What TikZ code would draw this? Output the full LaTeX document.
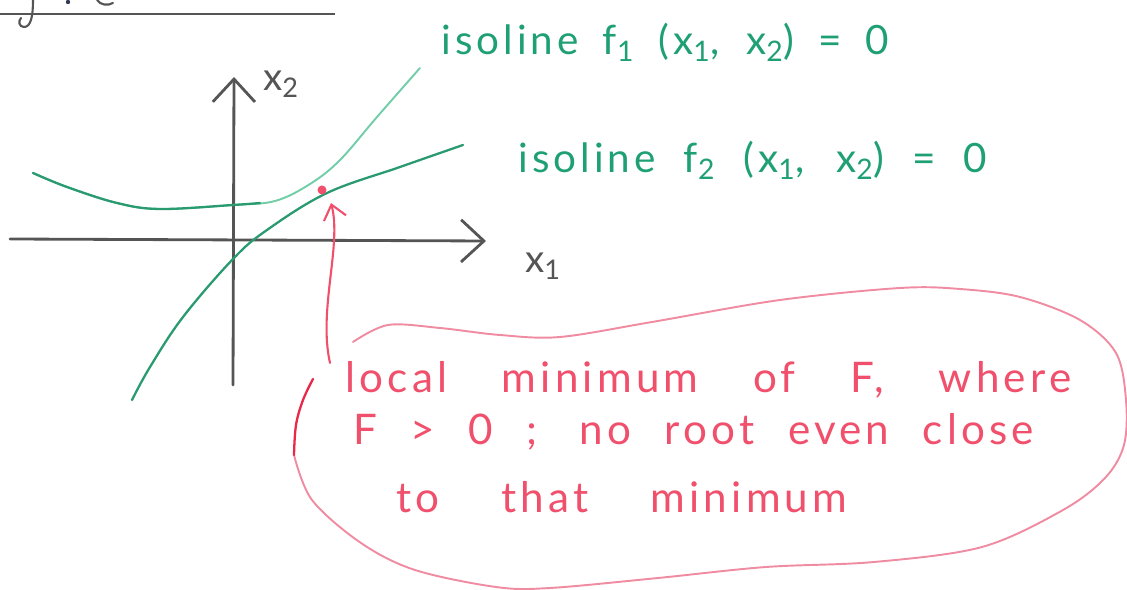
\documentclass[tikz,border=0pt]{standalone}
\usepackage{fontspec}
\newfontfamily\hand[LetterSpace=10]{Lato}
\usetikzlibrary{arrows.meta}
\definecolor{axisgray}{HTML}{555555}
\definecolor{isogreen}{HTML}{2A9A70}
\definecolor{isolight}{HTML}{72CDA9}
\definecolor{labgreen}{HTML}{1FA074}
\definecolor{notered}{HTML}{F0506C}
\definecolor{blobpink}{HTML}{F08CA2}
\definecolor{strokered}{HTML}{EA2848}
\definecolor{inkblue}{HTML}{333A55}
\tikzset{
  axisline/.style={draw=axisgray, line width=1.6pt, line cap=round,
    -{Straight Barb[length=13pt,width=24pt]}},
  isolabel/.style={font=\hand\fontsize{23}{26}\selectfont, text=labgreen, anchor=base west, inner sep=0pt},
  notetext/.style={font=\hand\fontsize{24}{28}\selectfont, text=notered, anchor=base west, inner sep=0pt},
  axislabel/.style={font=\hand\fontsize{22}{26}\selectfont, text=axisgray, inner sep=0pt},
  curvedark/.style={draw=isogreen, line width=1.3pt, line cap=round},
  curvelight/.style={draw=isolight, line width=1.1pt, line cap=round},
  blobline/.style={draw=blobpink, line width=1.1pt, line cap=round},
  pointer/.style={draw=notered, line width=1.2pt, line cap=round,
    -{Straight Barb[length=8pt,width=13pt]}},
}
\begin{document}
\begin{tikzpicture}[x=0.02cm, y=-0.02cm]
\useasboundingbox (0,0) rectangle (1127,590);

% top-left fragment of a heading, cut off by the page edge
\draw[axisgray, line width=0.9pt] (0,14) -- (335,14);
\draw[axisgray, line width=1.2pt, line cap=round] (33,0) .. controls (33,16) and (31,27) .. (24,27) .. controls (19,27) and (18,21) .. (21,18);
\fill[inkblue] (68,2) circle (2.2);
\draw[axisgray, line width=1.2pt, line cap=round] (97,0) .. controls (100,5) and (108,6) .. (113,3);

% axes
\coordinate (xstart) at (10,239);
\coordinate (xend) at (486,241);
\coordinate (ystart) at (233,385);
\coordinate (yend) at (234,77);
\draw[axisline] (xstart) -- (xend);
\draw[axisline] (ystart) -- (yend);
\node[axislabel] (labx2) at (281,84) {x\textsubscript{2}};
\node[axislabel] (labx1) at (543,266) {x\textsubscript{1}};

% isoline f2 (darker, almost straight)
\draw[curvedark] plot[smooth, tension=0.6] coordinates {(132,400) (150,367) (183,317) (233,259) (267,230) (327,193) (400,167) (463,145)};
% isoline f1: one continuous line, the left part drawn darker
\draw[curvelight] plot[smooth, tension=0.6] coordinates {(33,173) (67,187) (117,203) (160,209) (233,205) (275,201) (310,184) (340,160) (377,117) (420,68)};
\draw[curvedark] plot[smooth, tension=0.6] coordinates {(33,173) (67,187) (117,203) (160,209) (233,205) (260,203)};

% local minimum point and pointer
\node[circle, fill=notered, inner sep=0pt, minimum size=0.18cm] (minpt) at (322,190) {};
\coordinate (ptail) at (330,363);
\coordinate (ptip) at (331,203);
\draw[pointer] (ptail) .. controls (318,310) and (342,245) .. (ptip);

% labels of the isolines
\node[isolabel] (lab1) at (441,55) {\makebox[8.96cm][s]{isoline f\textsubscript{1} (x\textsubscript{1}, x\textsubscript{2}) = 0}};
\node[isolabel] (lab2) at (518,173) {\makebox[9.38cm][s]{isoline f\textsubscript{2} (x\textsubscript{1}, x\textsubscript{2}) = 0}};

% note bubble
\draw[blobline] plot[smooth, tension=0.55] coordinates {(353,342) (388,325) (440,328) (500,335) (560,337) (652,322) (780,300) (900,288) (960,289) (1020,297) (1080,320) (1116,353) (1126,400) (1124,445) (1105,478) (1063,510) (982,547) (874,562) (766,567) (658,578) (550,588) (496,587) (415,570) (361,543) (312,500) (294,455)};
\draw[draw=strokered, line width=1.3pt, line cap=round] plot[smooth, tension=0.6] coordinates {(294,455) (296,425) (303,400) (313,379)};

\node[notetext] (note1) at (345,393) {\makebox[14.52cm][s]{local minimum of F, where}};
\node[notetext] (note2) at (353,445) {\makebox[13.62cm][s]{F > 0 ; no root even close}};
\node[notetext] (note3) at (396,513) {\makebox[9.02cm][s]{to that minimum}};
\end{tikzpicture}
\end{document}
